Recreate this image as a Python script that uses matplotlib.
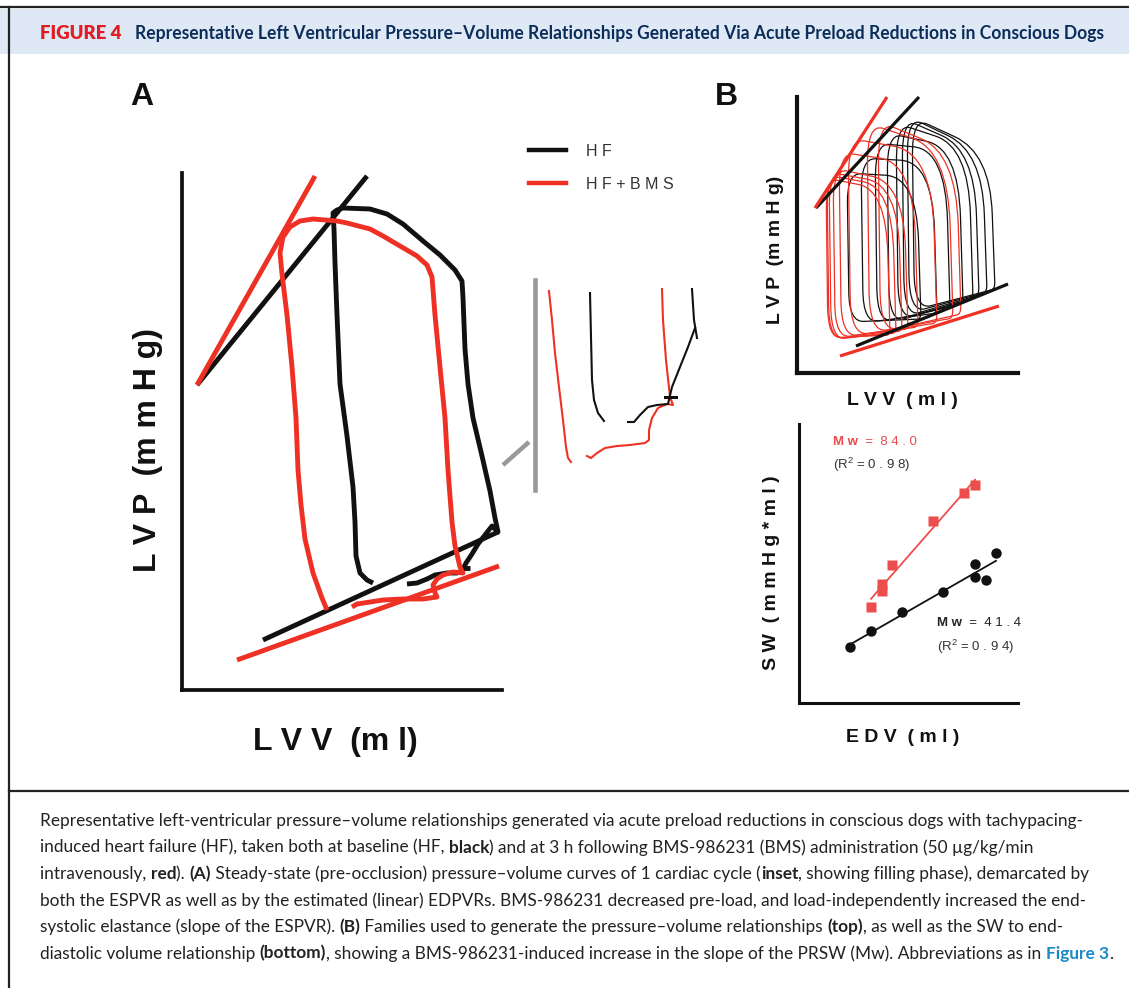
import numpy as np
import matplotlib
matplotlib.use("Agg")
import matplotlib.pyplot as plt
from matplotlib.path import Path
from matplotlib.patches import PathPatch, Rectangle
from matplotlib.lines import Line2D
from matplotlib.font_manager import FontProperties

W, H = 1129, 988
RED = "#ee3124"
BLACK = "#111111"
GRAY = "#999999"
TXT = "#222222"

# ---------------- data (arbitrary units: volume, pressure) ----------------
# panel A, one steady-state cycle
hf_loop_v = [191, 185, 178, 174, 173, 171, 165, 158, 155, 153, 152, 151,
             155, 161, 188, 205, 221, 241, 258, 273, 280, 281, 283, 286, 291, 300, 308, 313, 316,
             310, 303, 296, 290, 284, 280,
             275, 265, 253, 245, 235, 225]
hf_loop_p = [107, 110, 117, 134, 168, 203, 254, 306, 375, 427, 461, 477,
             480, 482, 481, 476, 466, 449, 435, 420, 409, 392, 341, 306, 272, 234, 199, 172, 158,
             164, 155, 146, 136, 127, 119,
             117, 117, 115, 111, 107, 106]
hf_tick_v = [280, 288]
hf_tick_p = [122, 122]

bms_loop_v = [145, 140, 131, 123, 119, 116, 114, 110, 105, 100, 98, 101, 108, 118, 131, 155,
              165, 188, 201, 218, 235, 245, 250,
              253, 258, 263, 266, 270, 273, 278, 281,
              271, 261, 255, 251, 253, 255, 241, 221, 201, 188, 175, 170]
bms_loop_p = [80, 92, 117, 151, 185, 220, 272, 323, 375, 416, 437, 453, 463, 469, 471, 469,
              467, 461, 454, 444, 434, 425, 413,
              375, 323, 272, 220, 168, 144, 123, 117,
              118, 115, 111, 105, 97, 93, 91, 91, 90, 88, 86, 83]

espvr_hf_v, espvr_hf_p = [15, 185], [305, 514]
espvr_bms_v, espvr_bms_p = [15, 133], [305, 514]
edpvr_hf_v, edpvr_hf_p = [81, 316], [50, 158]
edpvr_bms_v, edpvr_bms_p = [55, 317], [30, 124]

# inset (filling phase)
ins_bms_left_v = [14, 17, 20, 24, 28, 31, 33, 36]
ins_bms_left_p = [199, 170, 137, 103, 70, 43, 32, 28]
ins_hf_left_v = [55, 56, 57, 59, 63, 69]
ins_hf_left_p = [197, 153, 110, 90, 77, 69]
ins_bms_fill_v = [52, 56, 62, 70, 82, 95, 110, 114, 114, 117, 123, 132, 138, 135, 131, 128, 127]
ins_bms_fill_p = [34, 32, 37, 42, 44, 45, 47, 50, 60, 72, 82, 86, 85, 93, 130, 170, 201]
ins_hf_fill_v = [93, 99, 105, 113, 122, 133, 137, 145, 153, 160]
ins_hf_fill_p = [68, 68, 75, 83, 85, 86, 103, 123, 143, 162]
ins_hf_right_v = [157, 159, 162]
ins_hf_right_p = [201, 170, 152]
ins_cross_v = [130, 141]
ins_cross_p = [93, 93]

# panel B top, occlusion families (one value per loop)
hf_esv = [50, 64, 78, 90, 99, 105, 110, 115]
hf_edv = [124, 140, 153, 166, 176, 182, 190, 198]
hf_pes = [200, 215, 230, 240, 250, 255, 257, 256]
hf_psh = [196, 211, 223, 225, 226, 223, 221, 220]
hf_pmin = [51, 50, 50, 50, 53, 56, 60, 63]
hf_ped = [54, 60, 66, 71, 75, 78, 81, 84]

bms_esv = [29, 30, 32, 36, 42, 51, 70, 81]
bms_edv = [93, 99, 105, 111, 121, 140, 156, 164]
bms_pes = [195, 198, 201, 205, 221, 235, 250, 252]
bms_psh = [183, 186, 188, 190, 210, 220, 223, 220]
bms_pmin = [35, 34, 33, 35, 36, 37, 40, 41]
bms_ped = [38, 40, 42, 44, 46, 50, 55, 59]

bt_espvr_hf_v, bt_espvr_hf_p = [19, 122], [165, 276]
bt_espvr_bms_v, bt_espvr_bms_p = [18, 90], [165, 276]
bt_edpvr_hf_v, bt_edpvr_hf_p = [59, 211], [27, 89]
bt_edpvr_bms_v, bt_edpvr_bms_p = [43, 202], [17, 67]

# panel B bottom, stroke work vs EDV
sw_bms_edv = [72, 83, 83, 93, 134, 165, 176]
sw_bms = [96, 112, 119, 138, 182, 210, 218]
sw_hf_edv = [51, 72, 103, 144, 176, 176, 187, 197]
sw_hf = [56, 72, 91, 111, 126, 139, 123, 150]

# ---------------- figure ----------------
plt.rcParams["font.family"] = ["Liberation Sans", "DejaVu Sans"]
plt.rcParams["mathtext.default"] = "regular"

fig = plt.figure(figsize=(W / 100, H / 100), dpi=100)
renderer = fig.canvas.get_renderer()


def box(x0, y0, x1, y1):
    a = fig.add_axes([x0 / W, 1 - y1 / H, (x1 - x0) / W, (y1 - y0) / H])
    a.set_xticks([])
    a.set_yticks([])
    a.patch.set_alpha(0)
    for s in ["top", "right"]:
        a.spines[s].set_visible(False)
    return a


def text_width(s, size, weight, family):
    fp = FontProperties(family=family, size=size, weight=weight)
    w1, _, _ = renderer.get_text_width_height_descent("|" + s + "|", fp, ismath=False)
    w0, _, _ = renderer.get_text_width_height_descent("||", fp, ismath=False)
    return w1 - w0


def draw_runs(x, y, parts, size, family):
    # x, y in display pixels (origin bottom-left), y is the baseline
    for s, weight, color in parts:
        fig.text(x / W, y / H, s, fontsize=size, fontweight=weight, color=color,
                 family=family, ha="left", va="baseline")
        x += text_width(s, size, weight, family)


def rounded_loop(ax, esv, edv, pes, psh, pmin, ped, color, lw):
    w = edv - esv
    xs = [esv + 0.03 * w, edv, edv - 0.06 * w, esv]
    ys = [pmin, ped, psh, pes]
    fr = [0.2, 0.05, 0.45, 0.2]
    verts, codes = [], []
    n = len(xs)
    for i in range(n):
        cx, cy = xs[i], ys[i]
        px, py = xs[i - 1], ys[i - 1]
        nx, ny = xs[(i + 1) % n], ys[(i + 1) % n]
        verts += [(cx + (px - cx) * fr[i], cy + (py - cy) * fr[i]), (cx, cy),
                  (cx + (nx - cx) * fr[i], cy + (ny - cy) * fr[i])]
        codes += [Path.MOVETO if i == 0 else Path.LINETO, Path.CURVE3, Path.CURVE3]
    verts.append(verts[0])
    codes.append(Path.LINETO)
    ax.add_patch(PathPatch(Path(verts, codes), fill=False, edgecolor=color, lw=lw,
                           joinstyle="round"))


# frame, header band, caption divider
fig.add_artist(Rectangle((0, 1 - 54 / H), 1, 45 / H, transform=fig.transFigure,
                         facecolor="#dfe9f5", edgecolor="none", zorder=0))
fig.add_artist(Line2D([0, 1], [1 - 7.5 / H] * 2, color="#222222", lw=1.6))
fig.add_artist(Line2D([9 / W] * 2, [1 - 7 / H, 0], color="#222222", lw=1.6))
fig.add_artist(Line2D([9 / W, 1], [1 - 791 / H] * 2, color="#222222", lw=1.6))

# title
TFAM = ["Lato", "DejaVu Sans"]
title = ("Representative Left Ventricular Pressure\u2013Volume Relationships Generated "
         "Via Acute Preload Reductions in Conscious Dogs")
ts = 10 * 972 / text_width(title, 10, "bold", TFAM)
fs = 10 * 82 / text_width("FIGURE 4", 10, "heavy", TFAM)
draw_runs(40, H - 39, [("FIGURE 4", "heavy", "#e31b23")], fs, TFAM)
draw_runs(135, H - 39, [(title, "bold", "#0c2d5a")], ts, TFAM)

# ---------------- panel A ----------------
axA = box(182, 173, 502, 690)
axA.set_xlim(0, 320)
axA.set_ylim(0, 517)
for s in ["left", "bottom"]:
    axA.spines[s].set_linewidth(2.7)
    axA.spines[s].set_color(BLACK)
kw = dict(lw=3.5, solid_capstyle="butt", solid_joinstyle="round", clip_on=False)
axA.plot(espvr_hf_v, espvr_hf_p, color=BLACK, **kw)
axA.plot(espvr_bms_v, espvr_bms_p, color=RED, **kw)
axA.plot(edpvr_hf_v, edpvr_hf_p, color=BLACK, **kw)
axA.plot(hf_loop_v, hf_loop_p, color=BLACK, **kw)
axA.plot(hf_tick_v, hf_tick_p, color=BLACK, **kw)
axA.plot(edpvr_bms_v, edpvr_bms_p, color=RED, **kw)
axA.plot(bms_loop_v, bms_loop_p, color=RED, **kw)

fig.text(142 / W, 1 - 97 / H, "A", fontsize=23, fontweight="bold", color=BLACK,
         ha="center", va="center")
fig.text(335 / W, 1 - 742 / H, "L V V  (m l)", fontsize=23, fontweight="bold",
         color=BLACK, ha="center", va="center")
fig.text(148 / W, 1 - 450 / H, "L V P  (m m H g)", fontsize=23, fontweight="bold",
         color=BLACK, ha="center", va="center", rotation=90)

# inset
axI = box(535, 280, 700, 490)
axI.set_xlim(0, 165)
axI.set_ylim(0, 210)
axI.spines["bottom"].set_visible(False)
axI.spines["left"].set_color(GRAY)
axI.spines["left"].set_linewidth(3.3)
ki = dict(lw=1.5, solid_joinstyle="round", clip_on=False)
axI.plot([-32, -6], [25, 48], color=GRAY, lw=3.2, solid_capstyle="butt", clip_on=False)
axI.plot(ins_bms_left_v, ins_bms_left_p, color=RED, **ki)
axI.plot(ins_hf_left_v, ins_hf_left_p, color=BLACK, **ki)
axI.plot(ins_bms_fill_v, ins_bms_fill_p, color=RED, **ki)
axI.plot(ins_hf_fill_v, ins_hf_fill_p, color=BLACK, **ki)
axI.plot(ins_hf_right_v, ins_hf_right_p, color=BLACK, **ki)
axI.plot(ins_cross_v, ins_cross_p, color=BLACK, lw=2.2, clip_on=False)

handles = [Line2D([], [], color=BLACK, lw=3.2), Line2D([], [], color=RED, lw=3.2)]
fig.legend(handles, ["H F", "H F + B M S"], loc="upper left",
           bbox_to_anchor=(529 / W, 1 - 144 / H), frameon=False, fontsize=11.5,
           labelcolor="#333333", handlelength=2.3, handletextpad=1.3,
           labelspacing=1.1, borderpad=0, borderaxespad=0)

# ---------------- panel B top ----------------
axBt = box(797, 97, 1018, 373)
axBt.set_xlim(0, 221)
axBt.set_ylim(0, 276)
for s in ["left", "bottom"]:
    axBt.spines[s].set_linewidth(3)
    axBt.spines[s].set_color(BLACK)
for i in range(len(hf_esv)):
    rounded_loop(axBt, hf_esv[i], hf_edv[i], hf_pes[i], hf_psh[i], hf_pmin[i], hf_ped[i],
                 BLACK, 0.9)
for i in range(len(bms_esv)):
    rounded_loop(axBt, bms_esv[i], bms_edv[i], bms_pes[i], bms_psh[i], bms_pmin[i],
                 bms_ped[i], RED, 0.9)
kb = dict(lw=2.3, solid_capstyle="butt", clip_on=False)
axBt.plot(bt_espvr_hf_v, bt_espvr_hf_p, color=BLACK, **kb)
axBt.plot(bt_edpvr_hf_v, bt_edpvr_hf_p, color=BLACK, **kb)
axBt.plot(bt_espvr_bms_v, bt_espvr_bms_p, color=RED, **kb)
axBt.plot(bt_edpvr_bms_v, bt_edpvr_bms_p, color=RED, **kb)

fig.text(726 / W, 1 - 97 / H, "B", fontsize=23, fontweight="bold", color=BLACK,
         ha="center", va="center")
fig.text(775 / W, 1 - 250 / H, "L V P  (m m H g)", fontsize=14, fontweight="bold",
         color=BLACK, ha="center", va="center", rotation=90)
fig.text(902 / W, 1 - 400 / H, "L V V  ( m l )", fontsize=14, fontweight="bold",
         color=BLACK, ha="center", va="center")

# ---------------- panel B bottom ----------------
axBb = box(799, 424, 1018, 703)
axBb.set_xlim(0, 219)
axBb.set_ylim(0, 279)
for s in ["left", "bottom"]:
    axBb.spines[s].set_linewidth(2.2)
    axBb.spines[s].set_color(BLACK)
SQ = "#ee4d4d"
for xv, yv, col, mk in [(sw_bms_edv, sw_bms, SQ, "s"), (sw_hf_edv, sw_hf, BLACK, "o")]:
    xv = np.array(xv, float)
    yv = np.array(yv, float)
    k, b = np.polyfit(xv, yv, 1)
    xx = np.array([xv.min(), xv.max()])
    axBb.plot(xx, k * xx + b, color=col, lw=1.3)
    axBb.plot(xv, yv, mk, color=col, ms=7.5, mec="none", clip_on=False)

LFAM = ["Liberation Sans", "DejaVu Sans"]
for v, p, col, val in [(34, 258, "#e84c4c", "8 4 . 0"), (138, 77, TXT, "4 1 . 4")]:
    x0, y0 = axBb.transData.transform((v, p))
    draw_runs(x0, y0, [("M w", "bold", col), ("  =  " + val, "normal", col)], 9.5, LFAM)
for v, p, val in [(34, 234, "0 . 9 8"), (138, 52, "0 . 9 4")]:
    axBb.text(v, p, "(R$^{2}$ = " + val + ")", fontsize=9.5, color="#333333",
              ha="left", va="baseline")

fig.text(772 / W, 1 - 573 / H, "S W  ( m m H g * m l )", fontsize=14, fontweight="bold",
         color=BLACK, ha="center", va="center", rotation=90)
fig.text(903 / W, 1 - 737 / H, "E D V  ( m l )", fontsize=14, fontweight="bold",
         color=BLACK, ha="center", va="center")

# ---------------- caption ----------------
CFAM = ["Lato", "DejaVu Sans"]
BLUE = "#1a8ac6"
caption = [
    [("Representative left-ventricular pressure\u2013volume relationships generated via acute "
      "preload reductions in conscious dogs with tachypacing-", "normal", TXT)],
    [("induced heart failure (HF), taken both at baseline (HF, ", "normal", TXT),
     ("black", "bold", TXT),
     (") and at 3 h following BMS-986231 (BMS) administration (50 \u00b5g/kg/min", "normal", TXT)],
    [("intravenously, ", "normal", TXT), ("red", "bold", TXT), ("). ", "normal", TXT),
     ("(A)", "bold", TXT),
     (" Steady-state (pre-occlusion) pressure\u2013volume curves of 1 cardiac cycle (", "normal", TXT),
     ("inset", "bold", TXT), (", showing filling phase), demarcated by", "normal", TXT)],
    [("both the ESPVR as well as by the estimated (linear) EDPVRs. BMS-986231 decreased "
      "pre-load, and load-independently increased the end-", "normal", TXT)],
    [("systolic elastance (slope of the ESPVR). ", "normal", TXT), ("(B)", "bold", TXT),
     (" Families used to generate the pressure\u2013volume relationships ", "normal", TXT),
     ("(top)", "bold", TXT), (", as well as the SW to end-", "normal", TXT)],
    [("diastolic volume relationship ", "normal", TXT), ("(bottom)", "bold", TXT),
     (", showing a BMS-986231-induced increase in the slope of the PRSW (Mw). "
      "Abbreviations as in ", "normal", TXT),
     ("Figure 3", "bold", BLUE), (".", "normal", TXT)],
]
cs = 10 * 1046 / text_width(caption[0][0][0], 10, "normal", CFAM)
for i, line in enumerate(caption):
    draw_runs(40, H - (826 + 26.5 * i), line, cs, CFAM)

fig.savefig("out.png", dpi=100)
